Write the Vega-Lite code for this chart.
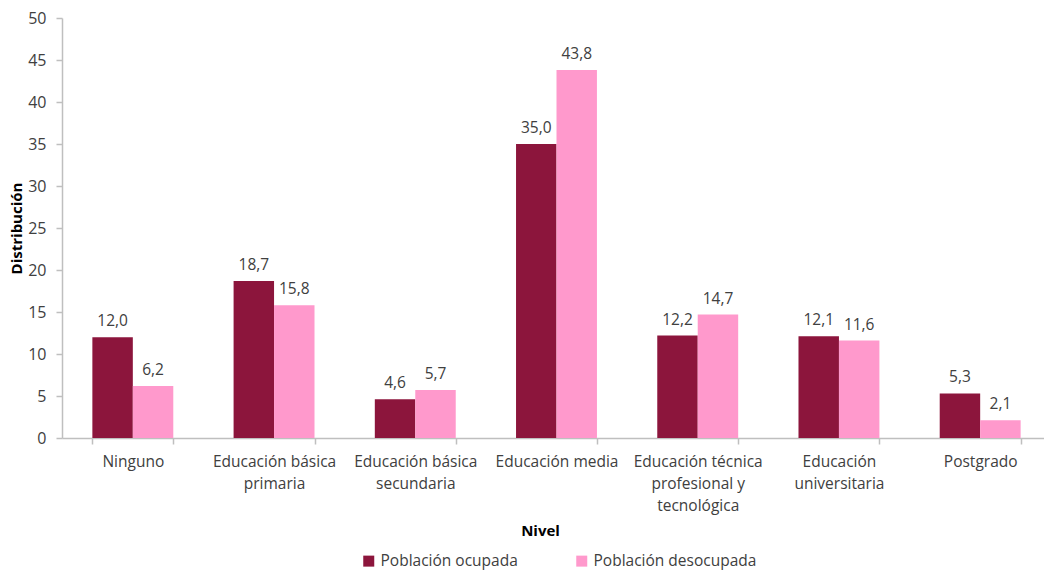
{
  "$schema": "https://vega.github.io/schema/vega-lite/v6.json",
  "width": 982,
  "height": 420,
  "autosize": "none",
  "padding": {"left": 62, "top": 18, "right": 0, "bottom": 133},
  "config": {
    "locale": {"number": {"decimal": ",", "thousands": ".", "grouping": [3], "currency": ["", " €"]}},
    "font": "Open Sans",
    "view": {"stroke": null},
    "axis": {"labelFont": "Open Sans", "titleFont": "Open Sans", "labelColor": "#404040", "titleColor": "#000000", "labelFontSize": 15.5, "titleFontSize": 15, "domainColor": "#bfbfbf", "tickColor": "#bfbfbf", "domainWidth": 1.5, "tickWidth": 1.5, "grid": false}
  },
  "data": {
    "values": [
      {"nivel": "Ninguno", "grupo": "Población ocupada", "valor": 12.0},
      {"nivel": "Ninguno", "grupo": "Población desocupada", "valor": 6.2},
      {"nivel": "Educación básica primaria", "grupo": "Población ocupada", "valor": 18.7},
      {"nivel": "Educación básica primaria", "grupo": "Población desocupada", "valor": 15.8},
      {"nivel": "Educación básica secundaria", "grupo": "Población ocupada", "valor": 4.6},
      {"nivel": "Educación básica secundaria", "grupo": "Población desocupada", "valor": 5.7},
      {"nivel": "Educación media", "grupo": "Población ocupada", "valor": 35.0},
      {"nivel": "Educación media", "grupo": "Población desocupada", "valor": 43.8},
      {"nivel": "Educación técnica profesional y tecnológica", "grupo": "Población ocupada", "valor": 12.2},
      {"nivel": "Educación técnica profesional y tecnológica", "grupo": "Población desocupada", "valor": 14.7},
      {"nivel": "Educación universitaria", "grupo": "Población ocupada", "valor": 12.1},
      {"nivel": "Educación universitaria", "grupo": "Población desocupada", "valor": 11.6},
      {"nivel": "Postgrado", "grupo": "Población ocupada", "valor": 5.3},
      {"nivel": "Postgrado", "grupo": "Población desocupada", "valor": 2.1}
    ]
  },
  "encoding": {
    "x": {
      "field": "nivel",
      "type": "nominal",
      "sort": null,
      "scale": {"paddingInner": 0.427, "paddingOuter": 0.215, "range": [0, 989]},
      "axis": {
        "title": "Nivel",
        "titleFontWeight": "bold",
        "titlePadding": 10,
        "titleX": 478,
        "labelAngle": 0,
        "tickBand": "extent",
        "tickSize": 6,
        "labelPadding": 10,
        "labelLineHeight": 22,
        "labelLimit": 200,
        "labelExpr": "datum.value == 'Educación básica primaria' ? ['Educación básica', 'primaria'] : datum.value == 'Educación básica secundaria' ? ['Educación básica', 'secundaria'] : datum.value == 'Educación técnica profesional y tecnológica' ? ['Educación técnica', 'profesional y', 'tecnológica'] : datum.value == 'Educación universitaria' ? ['Educación', 'universitaria'] : datum.value"
      }
    },
    "xOffset": {"field": "grupo", "type": "nominal", "sort": ["Población ocupada", "Población desocupada"], "scale": {"paddingInner": 0}},
    "y": {
      "field": "valor",
      "type": "quantitative",
      "scale": {"domain": [0, 50]},
      "axis": {"title": "Distribución", "titleFontWeight": "bold", "values": [0, 5, 10, 15, 20, 25, 30, 35, 40, 45, 50], "labelFontSize": 16, "tickSize": 6, "labelPadding": 10, "titlePadding": 3}
    }
  },
  "layer": [
    {
      "mark": {"type": "bar"},
      "encoding": {
        "color": {
          "field": "grupo",
          "type": "nominal",
          "sort": ["Población ocupada", "Población desocupada"],
          "scale": {"domain": ["Población ocupada", "Población desocupada"], "range": ["#8c153c", "#ff99cc"]},
          "legend": {"title": null, "orient": "none", "legendX": 299, "legendY": 535, "padding": 0, "direction": "horizontal", "symbolType": "square", "symbolSize": 121, "symbolStrokeWidth": 0, "labelFontSize": 15.5, "labelFont": "Open Sans", "labelColor": "#404040", "labelOffset": 4, "labelLimit": 300, "columnPadding": 56}
        }
      }
    },
    {
      "mark": {"type": "text", "baseline": "bottom", "dy": -8, "fontSize": 15.5, "color": "#404040", "font": "Open Sans"},
      "encoding": {"text": {"field": "valor", "type": "quantitative", "format": ".1f"}}
    }
  ]
}
